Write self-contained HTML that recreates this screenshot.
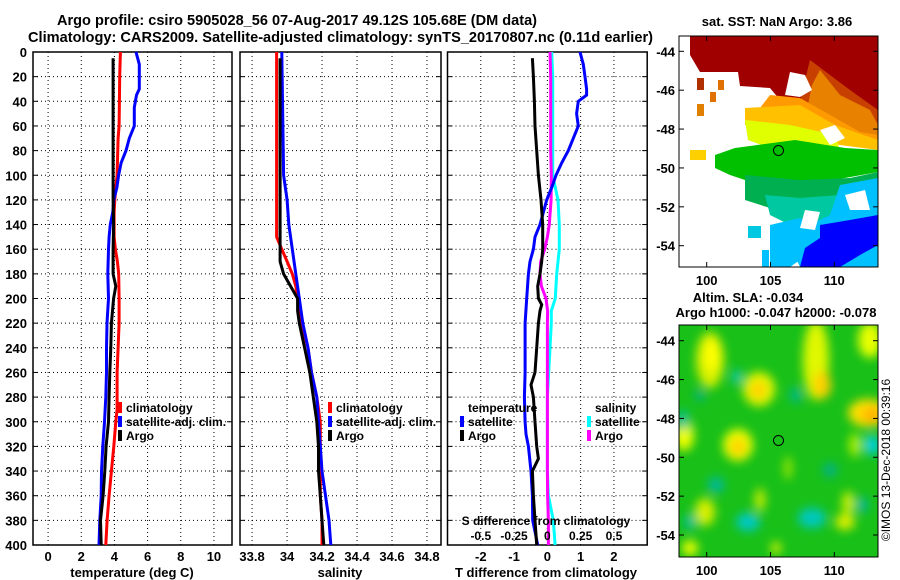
<!DOCTYPE html>
<html><head><meta charset="utf-8"><style>
body{margin:0;background:#fff;}
svg{display:block;font-family:"Liberation Sans",Arial,sans-serif;font-weight:bold;}
</style></head><body>
<svg id="chart" width="900" height="580" viewBox="0 0 900 580" xmlns="http://www.w3.org/2000/svg">
<defs>
<filter id="blur6" x="-50%" y="-50%" width="200%" height="200%"><feGaussianBlur stdDeviation="5"/></filter>
<clipPath id="clipTop"><rect x="679" y="36" width="199" height="231"/></clipPath>
<clipPath id="clipBot"><rect x="679" y="325" width="199" height="232"/></clipPath>
</defs>
<text x="57" y="25" font-size="15" textLength="480" lengthAdjust="spacingAndGlyphs">Argo profile: csiro 5905028_56 07-Aug-2017 49.12S 105.68E (DM data)</text>
<text x="28" y="42" font-size="15" textLength="625" lengthAdjust="spacingAndGlyphs">Climatology: CARS2009. Satellite-adjusted climatology: synTS_20170807.nc (0.11d earlier)</text>

<g clip-path="url(#clipTop)">
<rect x="679" y="36" width="199" height="231" fill="#fff"/>
<polygon fill="#a00000" points="690,36 878,36 878,135 860,130 830,110 800,100 780,100 770,88 740,86 738,72 700,72 690,55"/>
<polygon fill="#c84000" points="810,60 850,90 878,110 878,135 850,128 820,112 800,102 805,80"/>
<polygon fill="#e88000" points="820,70 840,95 870,110 878,125 878,140 850,135 830,118 808,105 812,85"/>
<polygon fill="#ff9a00" points="770,95 800,98 830,115 860,132 878,135 878,145 800,130 775,115 760,108"/>
<polygon fill="#ffc000" points="745,108 800,105 835,125 878,140 878,150 840,145 800,135 760,130 745,125"/>
<polygon fill="#e0ff00" points="745,120 790,125 835,135 840,150 800,152 770,148 748,140"/>
<polygon fill="#00c000" points="735,148 795,140 845,148 878,150 878,172 845,178 800,185 760,188 745,180 730,175 715,168 715,155"/>
<polygon fill="#00b050" points="745,175 800,180 850,178 878,172 878,190 840,200 800,205 770,208 745,200"/>
<polygon fill="#00c8a0" points="765,195 800,198 840,195 850,215 820,222 790,225 770,215"/>
<polygon fill="#00c0ff" points="840,185 878,178 878,267 800,267 790,245 810,225 830,215"/>
<polygon fill="#00c0ff" points="770,225 800,218 820,235 800,260 790,267 770,267"/>
<polygon fill="#0000ff" points="820,225 850,220 878,215 878,245 860,255 840,267 800,267 805,248 820,238"/>
<rect x="697" y="78" width="7" height="12" fill="#b03000"/><rect x="718" y="80" width="6" height="10" fill="#e07000"/>
<rect x="710" y="92" width="6" height="10" fill="#e07000"/><rect x="697" y="104" width="7" height="12" fill="#e08000"/>
<rect x="690" y="150" width="16" height="10" fill="#ffd000"/><rect x="748" y="226" width="13" height="12" fill="#00c8e0"/>
<rect x="762" y="250" width="7" height="17" fill="#00c0ff"/>
<polygon fill="#fff" points="790,72 805,75 812,90 800,97 785,95"/>
<polygon fill="#fff" points="820,130 835,125 845,138 830,145"/>
<polygon fill="#fff" points="845,195 865,190 870,210 850,210"/>
<polygon fill="#fff" points="805,210 820,212 815,230 800,228"/>
</g>
<rect x="679" y="36" width="199" height="231" fill="none" stroke="#000" stroke-width="1"/>
<circle cx="778.5" cy="150.5" r="5" fill="#00c000" stroke="#000" stroke-width="1"/>
<text x="777" y="26" font-size="13" text-anchor="middle">sat. SST: NaN Argo: 3.86</text>
<text x="748" y="302" font-size="13" text-anchor="middle">Altim. SLA: -0.034</text>
<text x="776" y="317" font-size="13" text-anchor="middle">Argo h1000: -0.047 h2000: -0.078</text>

<g clip-path="url(#clipBot)">
<rect x="679" y="325" width="199" height="232" fill="#18c018"/>
<g filter="url(#blur6)" id="slaBlobs"></g>
</g>
<rect x="679" y="325" width="199" height="232" fill="none" stroke="#000" stroke-width="1"/>
<circle cx="778.5" cy="440.5" r="5" fill="none" stroke="#000" stroke-width="1"/>
<text transform="translate(890,460) rotate(-90)" font-size="12" font-weight="normal" text-anchor="middle">©IMOS 13-Dec-2018 00:39:16</text>

<g id="plots"></g>
</svg>
<script>
// ---- data ----
const tSatDepth=[0,10,30,35,45,60,70,80,90,100,110,120,130,140,150,160,180,200,220,240,260,280,300,320,340,360,380,400];
const tSatVal=[5.3,5.5,5.5,5.33,5.2,5.2,4.9,4.7,4.4,4.25,4.15,3.96,3.9,3.75,3.68,3.64,3.6,3.64,3.55,3.52,3.52,3.48,3.4,3.3,3.22,3.2,3.12,3.07];
const tClimDepth=[0,20,60,70,100,110,120,130,150,160,170,180,200,220,240,260,290,300,320,340,360,380,400];
const tClimVal=[4.36,4.32,4.28,4.22,4.16,4.08,4.02,3.98,3.98,4.06,4.18,4.26,4.28,4.28,4.22,4.16,4.16,4.08,3.96,3.82,3.68,3.56,3.48];
const tArgoDepth=[5,120,140,160,180,190,200,220,240,260,280,300,320,340,360,380,400];
const tArgoVal=[3.92,3.92,3.95,3.92,3.92,4.08,3.95,3.82,3.78,3.72,3.68,3.64,3.5,3.42,3.32,3.16,3.2];
const sSatDepth=[0,100,120,140,160,180,200,220,240,260,280,300,320,340,360,380,400];
const sSatVal=[33.97,33.98,34.0,34.01,34.03,34.05,34.07,34.09,34.12,34.14,34.17,34.18,34.19,34.2,34.22,34.24,34.25];
const sClimDepth=[0,20,150,160,170,180,190,200,220,240,260,280,300,320,340,360,380,400];
const sClimVal=[33.94,33.94,33.94,33.97,34.0,34.03,34.05,34.06,34.08,34.12,34.14,34.17,34.19,34.19,34.19,34.19,34.2,34.2];
const sArgoDepth=[5,170,180,190,200,210,220,240,260,280,300,320,340,360,380,400];
const sArgoVal=[33.96,33.96,33.98,34.02,34.06,34.06,34.07,34.1,34.13,34.15,34.17,34.18,34.18,34.19,34.2,34.21];
const dTSatDepth=[0,10,20,30,35,40,50,60,70,80,90,100,110,120,130,140,150,160,170,180,200,220,260,280,300,310,320,340,360,380,400];
const dTSatVal=[0.98,1.08,1.13,1.18,1.18,0.93,0.88,0.93,0.78,0.63,0.43,0.26,0.13,-0.02,-0.12,-0.22,-0.37,-0.42,-0.52,-0.57,-0.62,-0.67,-0.67,-0.69,-0.67,-0.64,-0.57,-0.49,-0.45,-0.44,-0.29];
const dTArgoDepth=[5,20,40,60,80,100,120,140,160,170,180,190,200,205,210,220,240,260,270,280,300,320,330,340,360,380,400];
const dTArgoVal=[-0.45,-0.42,-0.39,-0.37,-0.32,-0.27,-0.19,-0.14,-0.14,-0.17,-0.22,-0.29,-0.27,-0.17,-0.22,-0.27,-0.32,-0.37,-0.49,-0.42,-0.37,-0.32,-0.27,-0.45,-0.42,-0.37,-0.32];
const dSSatDepth=[0,20,100,110,120,140,160,180,200,210,220,260,280,340,360,380,400];
const dSSatVal=[0.033,0.04,0.04,0.06,0.08,0.09,0.09,0.07,0.06,0.03,0.03,0.01,0,0,0.008,0.045,0.058];
const dSArgoDepth=[0,20,80,100,120,140,150,160,170,180,190,200,210,220,340,360,380,400];
const dSArgoVal=[0.02,0.025,0.025,0.03,0.028,0.015,0,-0.02,-0.05,-0.055,-0.045,-0.01,0.002,0,0,0.002,0.008,0.008];
const depthTicks=[0,20,40,60,80,100,120,140,160,180,200,220,240,260,280,300,320,340,360,380,400];
const tTicks=[0,2,4,6,8,10];
const sTicks=[33.8,34,34.2,34.4,34.6,34.8];
const sTickLabels=["33.8","34","34.2","34.4","34.6","34.8"];
const dTTicks=[-2,-1,0,1,2];
const dSTicks=[-0.5,-0.25,0,0.25,0.5];
const dSTickLabels=["-0.5","-0.25","0","0.25","0.5"];
const slaBlobs=[
 [710,360,14,28,"#d8f000"],[712,355,8,16,"#ffff00"],[759,389,16,17,"#e8f800"],[758,390,8,9,"#ffd000"],
 [816,360,13,40,"#e0f800"],[822,385,9,14,"#ffd000"],[868,413,20,14,"#ffe000"],[872,415,10,8,"#ffb000"],
 [684,435,10,16,"#f0ff00"],[738,445,15,16,"#f0ff00"],[738,447,8,9,"#ffd000"],[870,340,12,18,"#e8ff00"],
 [760,500,5,12,"#d0f000"],[705,512,10,14,"#d8f000"],[848,503,6,12,"#d0f000"],[845,522,10,8,"#e0f000"],
 [690,548,8,8,"#f0ff00"],[776,548,5,6,"#e8f800"],[788,468,4,12,"#a0e800"],[855,445,6,12,"#b0f000"],
 [737,377,5,7,"#00c8c0"],[683,420,6,10,"#00c0a0"],[716,485,8,8,"#00b8a0"],[748,522,12,9,"#00c8c8"],
 [812,518,14,10,"#00c8c0"],[872,445,8,10,"#00d0e0"],[862,505,6,8,"#00b8a0"],[690,522,6,8,"#00c0a0"],
 [796,395,6,8,"#00b890"],[700,395,5,6,"#00b090"],[830,470,7,7,"#00b090"]];

const NS="http://www.w3.org/2000/svg";
const root=document.getElementById('plots');
function mk(tag,attrs,parent){const e=document.createElementNS(NS,tag);for(const k in attrs)e.setAttribute(k,attrs[k]);(parent||root).appendChild(e);return e;}

const blobG=document.getElementById('slaBlobs');
slaBlobs.forEach(b=>{const e=mk('ellipse',{cx:b[0],cy:b[1],rx:b[2],ry:b[3],fill:b[4]},blobG);

});

const Y0=52,Y1=545;
const yScale=d=>Y0+(d/400)*(Y1-Y0);
function makeX(x0,x1,v0,v1){return v=>x0+(v-v0)/(v1-v0)*(x1-x0);}

function panel(name,x0,x1,xs,ticks,labels,showY){
  const g=mk('g',{});
  
  
  ticks.forEach((t,i)=>{const x=xs(t);
    mk('line',{x1:x,x2:x,y1:Y0,y2:Y1,stroke:'#000','stroke-width':1,'stroke-dasharray':'1,3'},g);
    const tl=mk('text',{x:x,y:561,'font-size':13,'text-anchor':'middle'},g);tl.textContent=labels[i];
    
    });
  depthTicks.forEach(d=>{const y=yScale(d);
    mk('line',{x1:x0,x2:x1,y1:y,y2:y,stroke:'#000','stroke-width':1,'stroke-dasharray':'1,3'},g);
    mk('line',{x1:x1-5,x2:x1,y1:y,y2:y,stroke:'#000','stroke-width':1},g);
    mk('line',{x1:x0,x2:x0+5,y1:y,y2:y,stroke:'#000','stroke-width':1},g);
    if(showY){const tl=mk('text',{x:27,y:y+5,'font-size':13,'text-anchor':'end'},g);tl.textContent=d;
      
      }});
  mk('rect',{x:x0,y:Y0,width:x1-x0,height:Y1-Y0,fill:'none',stroke:'#000','stroke-width':1.5},g);
  return g;
}
function series(g,name,depths,vals,xs,color,w){
  const pts=depths.map((d,i)=>xs(vals[i]).toFixed(1)+','+yScale(d).toFixed(1)).join(' ');
  const p=mk('polyline',{points:pts,fill:'none',stroke:color,'stroke-width':w||3,'stroke-linejoin':'miter'},g);
  
  
}
function txt(g,name,x,y,s,size,anchor){const t=mk('text',{x:x,y:y,'font-size':size||13,'text-anchor':anchor||'start'},g);t.textContent=s;
  
  return t;}
function legMark(g,x,y,color){const r=mk('rect',{x:x,y:y-6,width:4,height:11,fill:color},g);
  
  }

// Panel 1 temperature
const xT=makeX(33,232,-0.91,11.09);
const g1=panel('temperature-panel',33,232,xT,tTicks,tTicks.map(String),true);
series(g1,'temperature-climatology-line',tClimDepth,tClimVal,xT,'#ff0000');
series(g1,'temperature-satellite-line',tSatDepth,tSatVal,xT,'#0000ff');
series(g1,'temperature-argo-line',tArgoDepth,tArgoVal,xT,'#000000');
txt(g1,'temperature-axis-title',132,577,'temperature (deg C)',13,'middle');
legMark(g1,118,408,'#ff0000');txt(g1,'legend-climatology',126,412,'climatology',12);
legMark(g1,118,422,'#0000ff');txt(g1,'legend-satellite-adj',126,426,'satellite-adj. clim.',12);
legMark(g1,118,436,'#000');txt(g1,'legend-argo',126,440,'Argo',12);

// Panel 2 salinity
const xS=makeX(240,441,33.731,34.880);
const g2=panel('salinity-panel',240,441,xS,sTicks,sTickLabels,false);
series(g2,'salinity-climatology-line',sClimDepth,sClimVal,xS,'#ff0000');
series(g2,'salinity-satellite-line',sSatDepth,sSatVal,xS,'#0000ff');
series(g2,'salinity-argo-line',sArgoDepth,sArgoVal,xS,'#000000');
txt(g2,'salinity-axis-title',340,577,'salinity',13,'middle');
legMark(g2,328,408,'#ff0000');txt(g2,'legend-climatology',336,412,'climatology',12);
legMark(g2,328,422,'#0000ff');txt(g2,'legend-satellite-adj',336,426,'satellite-adj. clim.',12);
legMark(g2,328,436,'#000');txt(g2,'legend-argo',336,440,'Argo',12);

// Panel 3 differences
const xDT=makeX(447.5,647.2,-3,3);
const xDS=makeX(447.5,647.2,-0.75,0.75);
const g3=panel('difference-panel',447.5,647.2,xDT,dTTicks,dTTicks.map(String),false);
series(g3,'salinity-diff-satellite-line',dSSatDepth,dSSatVal,xDS,'#00ffff');
series(g3,'salinity-diff-argo-line',dSArgoDepth,dSArgoVal,xDS,'#ff00ff');
series(g3,'temperature-diff-satellite-line',dTSatDepth,dTSatVal,xDT,'#0000ff');
series(g3,'temperature-diff-argo-line',dTArgoDepth,dTArgoVal,xDT,'#000000');
txt(g3,'difference-axis-title',546,577,'T difference from climatology',13,'middle');
txt(g3,'s-difference-axis-title',546,525,'S difference from climatology',12,'middle');
dSTicks.forEach((t,i)=>txt(g3,'s-tick-label',xDS(t),540,dSTickLabels[i],12,'middle'));
txt(g3,'legend-temperature-header',468,412,'temperature',12);
legMark(g3,460,422,'#0000ff');txt(g3,'legend-t-satellite',468,426,'satellite',12);
legMark(g3,460,436,'#000');txt(g3,'legend-t-argo',468,440,'Argo',12);
txt(g3,'legend-salinity-header',595,412,'salinity',12);
legMark(g3,587,422,'#00ffff');txt(g3,'legend-s-satellite',595,426,'satellite',12);
legMark(g3,587,436,'#ff00ff');txt(g3,'legend-s-argo',595,440,'Argo',12);

// Map axes
const lonTicks=[100,105,110];
const latTicks=[-44,-46,-48,-50,-52,-54];
const lonX=l=>706.7+(l-100)*12.76;
function mapAxes(name,top,bot,lat44,lat54){
  const g=mk('g',{});
  
  
  const ly=l=>lat44+(l+44)/(-10)*(lat54-lat44);
  latTicks.forEach(l=>{const y=ly(l);
    mk('line',{x1:679,x2:684,y1:y,y2:y,stroke:'#000'},g);mk('line',{x1:873,x2:878,y1:y,y2:y,stroke:'#000'},g);
    txt(g,'lat-tick-label',675,y+5,String(l),13,'end');});
  lonTicks.forEach(l=>{const x=lonX(l);
    mk('line',{x1:x,x2:x,y1:top,y2:top+5,stroke:'#000'},g);mk('line',{x1:x,x2:x,y1:bot-5,y2:bot,stroke:'#000'},g);
    txt(g,'lon-tick-label',x,bot+18,String(l),13,'middle');});
}
mapAxes('sst-map-axes',36,267,51.3,245.7);
mapAxes('sla-map-axes',325,557,340.7,535);
</script>
</body></html>
